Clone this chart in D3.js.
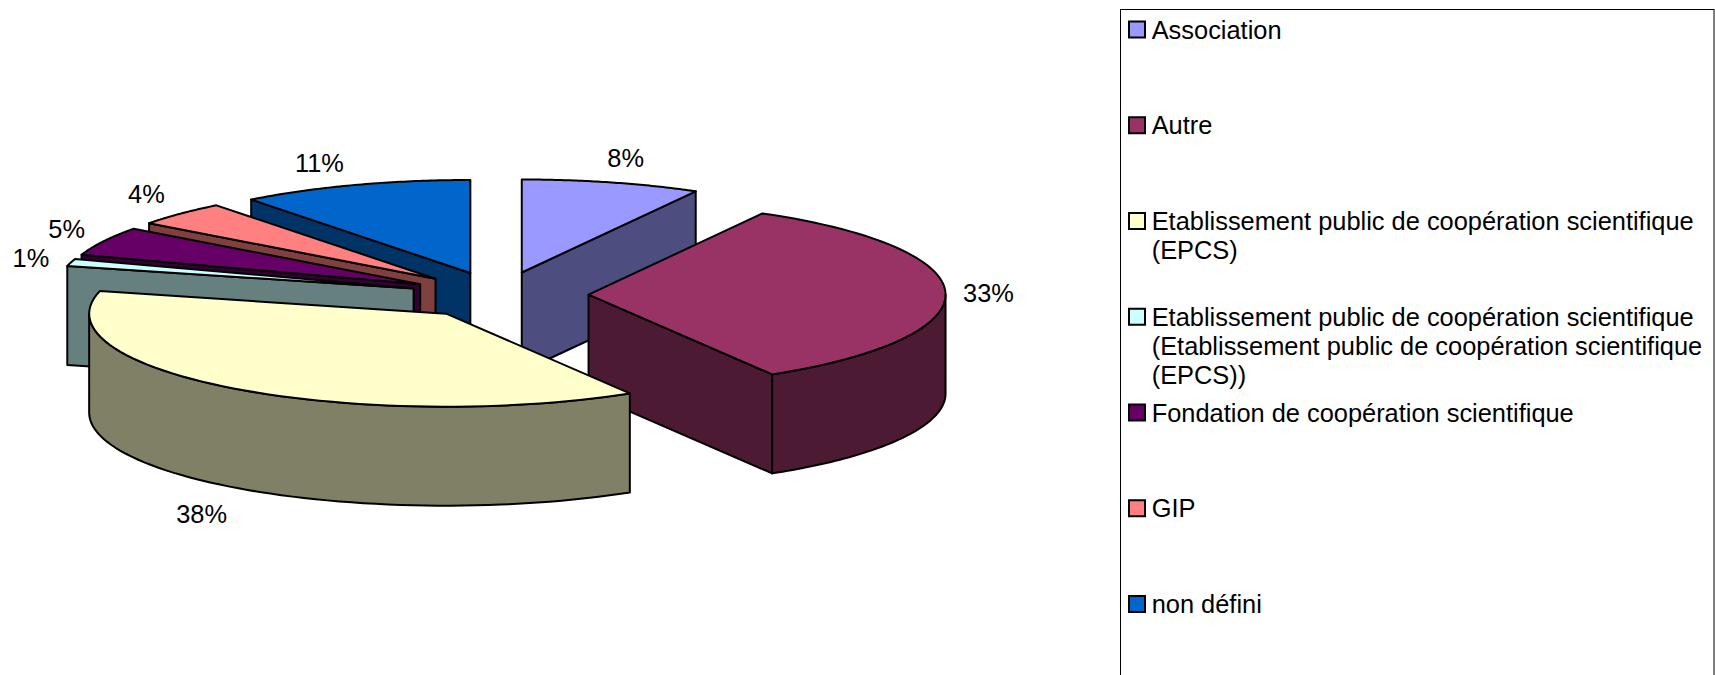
<!DOCTYPE html>
<html><head><meta charset="utf-8">
<script src="https://cdn.jsdelivr.net/npm/d3@7"></script>
<style>html,body{margin:0;padding:0;background:#fff;overflow:hidden}svg{display:block}
text{font-family:"Liberation Sans",Arial,sans-serif;fill:#000}</style>
</head><body><svg id="c" width="1715" height="675"></svg>
<script>
// data
const categories = ["Association","Autre","Etablissement public de coopération scientifique (EPCS)","Etablissement public de coopération scientifique (Etablissement public de coopération scientifique (EPCS))","Fondation de coopération scientifique","GIP","non défini"];
const values = [8.1,33.3,37.5,1.23,5.05,4.3,10.52];
const percentLabels = ["8%","33%","38%","1%","5%","4%","11%"];
const legendLines = [["Association"],["Autre"],["Etablissement public de coopération scientifique","(EPCS)"],["Etablissement public de coopération scientifique","(Etablissement public de coopération scientifique","(EPCS))"],["Fondation de coopération scientifique"],["GIP"],["non défini"]];
const colors = ["#9999FF","#993366","#FFFFCC","#CCFFFF","#660066","#FF8080","#0066CC"];
const drawOrder = [0,6,5,4,3,1,2];

// layout
const cx=499.3, cy=295, rx=357, ry=93, depth=99, explode=0.25;
const labelNudge = [[14,-24],[43,0],[-32,27],[-40,-4],[-37,-12],[-34,-20],[-35,-22]];
const fontSize = 25.4;

const svg=d3.select("#c");
const X=d3.scaleLinear().domain([-1,1]).range([cx-rx,cx+rx]);
const Y=d3.scaleLinear().domain([-1,1]).range([cy-ry,cy+ry]);
const arcs=d3.pie().sort(null).value(d=>d)(values);
const line=d3.line().x(p=>p[0]).y(p=>p[1]);
const shade=c=>{const r=d3.rgb(c);return d3.rgb(r.r/2,r.g/2,r.b/2).formatHex();};

function geom(a){
  const mid=(a.startAngle+a.endAngle)/2;
  const ox=explode*Math.sin(mid), oy=-explode*Math.cos(mid);
  const P=(ang,r=1,dz=0)=>[X(ox+r*Math.sin(ang)),Y(oy-r*Math.cos(ang))+dz];
  return {mid,P};
}
const sample=(a0,a1)=>d3.range(0,61).map(i=>a0+(a1-a0)*i/60);
const g=svg.append("g").attr("stroke","#000").attr("stroke-width",2).attr("stroke-linejoin","round");

drawOrder.forEach(i=>{
  const a=arcs[i],{P}=geom(a),col=colors[i],dark=shade(col);
  const C=P(0,0),Cb=P(0,0,depth);
  // only the cut face turned towards the viewer is drawn
  const faces=[];
  if(a.startAngle>Math.PI) faces.push(a.startAngle);
  if(a.endAngle<Math.PI) faces.push(a.endAngle);
  faces.forEach(ang=>{
    g.append("path").attr("fill",dark)
     .attr("d",line([C,P(ang),P(ang,1,depth),Cb])+"Z");
  });
  const s=Math.max(a.startAngle,Math.PI/2),e=Math.min(a.endAngle,Math.PI*1.5);
  if(e>s){
    const ang=sample(s,e);
    g.append("path").attr("fill",dark)
     .attr("d",line(ang.map(t=>P(t)).concat(ang.slice().reverse().map(t=>P(t,1,depth))))+"Z");
  }
  g.append("path").attr("fill",col)
   .attr("d",line([C].concat(sample(a.startAngle,a.endAngle).map(t=>P(t))))+"Z");
});

arcs.forEach((a,i)=>{
  const {mid,P}=geom(a);
  const lower=Math.cos(mid)<0?depth:0;
  const p=P(mid,1,lower);
  svg.append("text").attr("x",p[0]+labelNudge[i][0]).attr("y",p[1]+labelNudge[i][1])
    .attr("text-anchor","middle").attr("dominant-baseline","central")
    .attr("font-size",fontSize).text(percentLabels[i]);
});

// legend
svg.append("rect").attr("x",1120.5).attr("y",9.5).attr("width",593.5).attr("height",720)
  .attr("fill","#fff").attr("stroke","#000").attr("stroke-width",1);
const rowY=d3.scalePoint().domain(categories).range([29.5,604]);
const lg=svg.append("g");
categories.forEach((c,i)=>{
  const y=rowY(c);
  lg.append("rect").attr("x",1129).attr("y",y-8).attr("width",16).attr("height",16)
    .attr("fill",colors[i]).attr("stroke","#000").attr("stroke-width",2);
  legendLines[i].forEach((t,j)=>{
    lg.append("text").attr("x",1151.7).attr("y",y+j*29.3).attr("dominant-baseline","central")
      .attr("font-size",fontSize).text(t);
  });
});
</script></body></html>
